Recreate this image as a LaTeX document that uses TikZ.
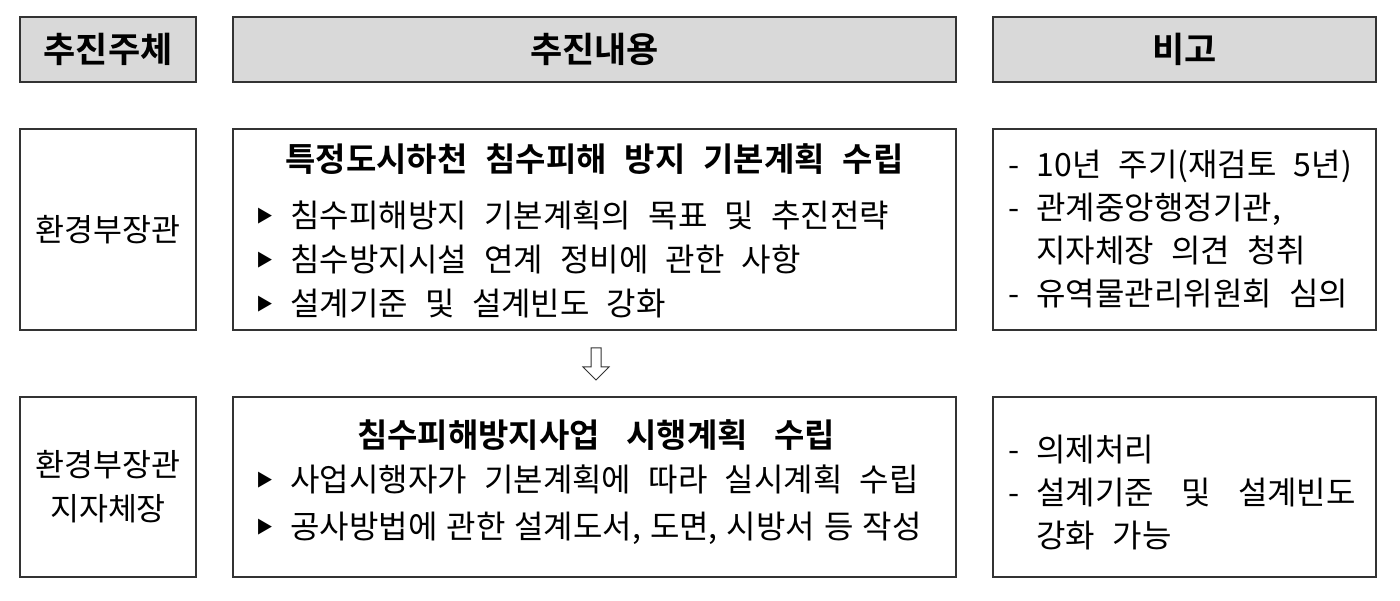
\documentclass[tikz,border=0pt]{standalone}
\usepackage{fontspec}
\setmainfont{Noto Sans CJK KR}[BoldFont={Noto Sans CJK KR Bold}, WordSpace=2.4]
\usepackage{tikz}

\newcommand{\tri}{{\fontsize{17}{17}\selectfont\raisebox{5pt}{▶}}}

\begin{document}
\begin{tikzpicture}[x=1pt, y=-1pt,
    headbox/.style={draw=black!80, line width=1.3pt, fill=black!15, inner sep=0pt,
      font=\fontsize{35}{35}\selectfont\bfseries},
    plainbox/.style={draw=black!80, line width=1.3pt, inner sep=0pt},
    whobox/.style={plainbox, minimum width=176pt, align=center,
      font=\fontsize{31.5}{44}\selectfont},
    titletext/.style={inner sep=0pt, font=\fontsize{33}{33}\selectfont\bfseries},
    bodytext/.style={inner sep=0pt, anchor=west, align=left, font=\fontsize{32}{44}\selectfont}]
      \useasboundingbox (0,0) rectangle (1400,601);

      \node[headbox, minimum width=176pt, minimum height=65pt](hwho) at (108,49.5){추진주체};
      \node[headbox, minimum width=723pt, minimum height=65pt](hwhat) at (594.5,49.5){추진내용};
      \node[headbox, minimum width=383pt, minimum height=65pt](hnote) at (1184.5,49.5){비고};

      \node[whobox, minimum height=201pt](who1) at (108,229.5){환경부장관};
      \node[plainbox, minimum width=723pt, minimum height=201pt](plan) at (594.5,229.5){};
      \node[plainbox, minimum width=383pt, minimum height=201pt](note1) at (1184.5,229.5){};

      \node[titletext](plantitle) at (594.5,159){특정도시하천 침수피해 방지 기본계획 수립};
      \node[bodytext](planlist) at (256,259){\tri\ 침수피해방지 기본계획의 목표 및 추진전략\\
        \tri\ 침수방지시설 연계 정비에 관한 사항\\
        \tri\ 설계기준 및 설계빈도 강화};
      \node[bodytext, font=\fontsize{32}{43}\selectfont](note1list) at (1008,229.5){- 10년 주기(재검토 5년)\\
        - 관계중앙행정기관,\\
        \phantom{- }지자체장 의견 청취\\
        - 유역물관리위원회 심의};

      \draw [line width=1pt, black!80, fill=white] (591,348) -- (601,348) -- (601,367) -- (609,367)
        -- (596,380) -- (583,367) -- (591,367) -- cycle;

      \node[whobox, minimum height=180pt](who2) at (108,487){환경부장관\\지자체장};
      \node[plainbox, minimum width=723pt, minimum height=180pt](exec) at (594.5,487){};
      \node[plainbox, minimum width=383pt, minimum height=180pt](note2) at (1184.5,487){};

      \node[titletext](exectitle) at (596,435){침수피해방지사업\hspace{0.8em}시행계획\hspace{0.8em}수립};
      \node[bodytext, font=\fontsize{32}{47}\selectfont](execlist) at (256,505){\tri\ 사업시행자가 기본계획에 따라 실시계획 수립\\
        \tri\ {\spaceskip=9pt\relax 공사방법에 관한 설계도서, 도면, 시방서 등 작성}};
      \node[bodytext, font=\fontsize{32}{43}\selectfont](note2list) at (1008,493){- 의제처리\\
        - 설계기준\hspace{0.85em}및\hspace{0.85em}설계빈도\\
        \phantom{- }강화 가능};
    \end{tikzpicture}
\end{document}
